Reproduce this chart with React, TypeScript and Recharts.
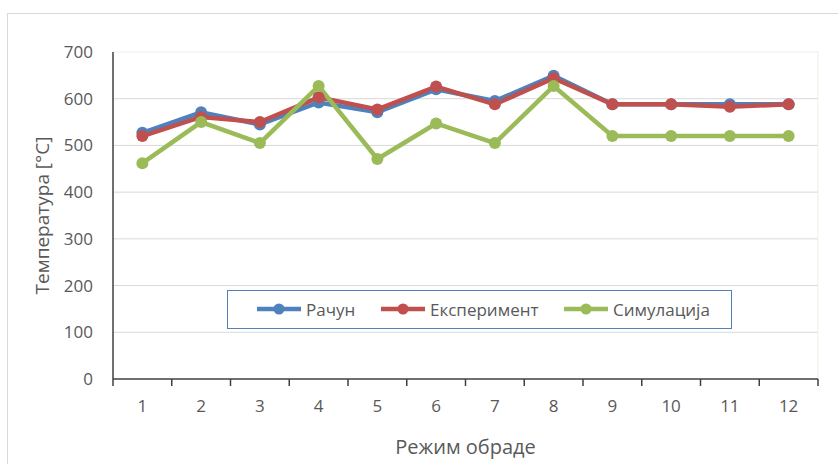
import React from "react";
import { LineChart, Line, XAxis, YAxis, CartesianGrid, ReferenceLine } from "recharts";

// режими обраде 1..12
const modes = [1, 2, 3, 4, 5, 6, 7, 8, 9, 10, 11, 12];
const racun = [527, 571, 545, 592, 571, 620, 595, 649, 588, 588, 588, 588];
const eksperiment = [520, 561, 550, 603, 577, 626, 588, 644, 588, 588, 583, 588];
const simulacija = [462, 550, 505, 627, 471, 547, 505, 627, 520, 520, 520, 520];
const yTicks = [0, 100, 200, 300, 400, 500, 600, 700];

const data = modes.map((m, i) => ({
  mode: m,
  racun: racun[i],
  eksperiment: eksperiment[i],
  simulacija: simulacija[i],
}));

// labels on the categories, tick marks on the boundaries between them
const xTicks = [0.5, ...modes.flatMap((m) => [m, m + 0.5])];

const series = [
  { key: "racun", name: "Рачун", color: "#4F81BD" },
  { key: "eksperiment", name: "Експеримент", color: "#C0504D" },
  { key: "simulacija", name: "Симулација", color: "#9BBB59" },
];

const FONT = "'Open Sans', 'Liberation Sans', sans-serif";
const TEXT = "#595959";
const AXIS = "#404040";

function XTick(props: any) {
  const { x, y, payload } = props;
  const v = payload.value;
  if (Number.isInteger(v)) {
    return (
      <text x={x} y={y + 33} textAnchor="middle" fill={TEXT} fontSize={17} fontFamily={FONT}>
        {v}
      </text>
    );
  }
  return <line x1={x} y1={y} x2={x} y2={y + 7} stroke={AXIS} strokeWidth={1.5} />;
}

function LegendBox() {
  const lefts = [28, 152, 335];
  return (
    <div
      style={{
        position: "absolute",
        left: 227,
        top: 290,
        width: 503,
        height: 37,
        border: "1px solid #4F81BD",
        fontFamily: FONT,
        fontSize: 17,
        color: TEXT,
      }}
    >
      {series.map((s, i) => (
        <div
          key={s.key}
          style={{
            position: "absolute",
            left: lefts[i],
            top: 8,
            display: "flex",
            alignItems: "center",
            height: 20,
          }}
        >
          <svg width={46} height={14}>
            <line x1={1} y1={7} x2={45} y2={7} stroke={s.color} strokeWidth={4.5} />
            <circle cx={23} cy={7} r={5.5} fill={s.color} />
          </svg>
          <span style={{ marginLeft: 4 }}>{s.name}</span>
        </div>
      ))}
    </div>
  );
}

export default function App() {
  return (
    <div
      style={{
        position: "absolute",
        left: 0,
        top: 0,
        width: 838,
        height: 464,
        background: "#fff",
        overflow: "hidden",
      }}
    >
      <div
        style={{
          position: "absolute",
          left: 7,
          top: 13,
          width: 900,
          height: 500,
          border: "1px solid #d9d9d9",
        }}
      />
      <LineChart
        width={838}
        height={464}
        data={data}
        margin={{ top: 52, right: 20, bottom: 0, left: 0 }}
      >
        <CartesianGrid
          vertical={false}
          stroke="#d9d9d9"
          horizontalValues={[100, 200, 300, 400, 500, 600]}
        />
        <ReferenceLine y={700} stroke="#f0ede3" />
        <ReferenceLine x={12.5} stroke="#f0ede3" />
        <XAxis
          dataKey="mode"
          type="number"
          domain={[0.5, 12.5]}
          ticks={xTicks}
          interval={0}
          axisLine={{ stroke: AXIS, strokeWidth: 1.5 }}
          tickLine={false}
          tickSize={0}
          tickMargin={0}
          height={85}
          tick={<XTick />}
          label={{
            value: "Режим обраде",
            position: "insideBottom",
            offset: 10,
            fill: TEXT,
            fontSize: 20,
            fontFamily: FONT,
          }}
        />
        <YAxis
          domain={[0, 700]}
          ticks={yTicks}
          interval={0}
          width={113}
          tickLine={false}
          axisLine={{ stroke: AXIS, strokeWidth: 1.5 }}
          tick={{ fill: TEXT, fontSize: 17, fontFamily: FONT, dx: -12 }}
          label={{
            value: "Температура [°C]",
            angle: -90,
            position: "insideLeft",
            offset: 42,
            fill: TEXT,
            fontSize: 19,
            fontFamily: FONT,
            style: { textAnchor: "middle" },
          }}
        />
        {series.map((s) => (
          <Line
            key={s.key}
            dataKey={s.key}
            name={s.name}
            stroke={s.color}
            strokeWidth={4.5}
            dot={{ r: 6, fill: s.color, stroke: s.color, strokeWidth: 0 }}
            isAnimationActive={false}
          />
        ))}
      </LineChart>
      <LegendBox />
    </div>
  );
}
